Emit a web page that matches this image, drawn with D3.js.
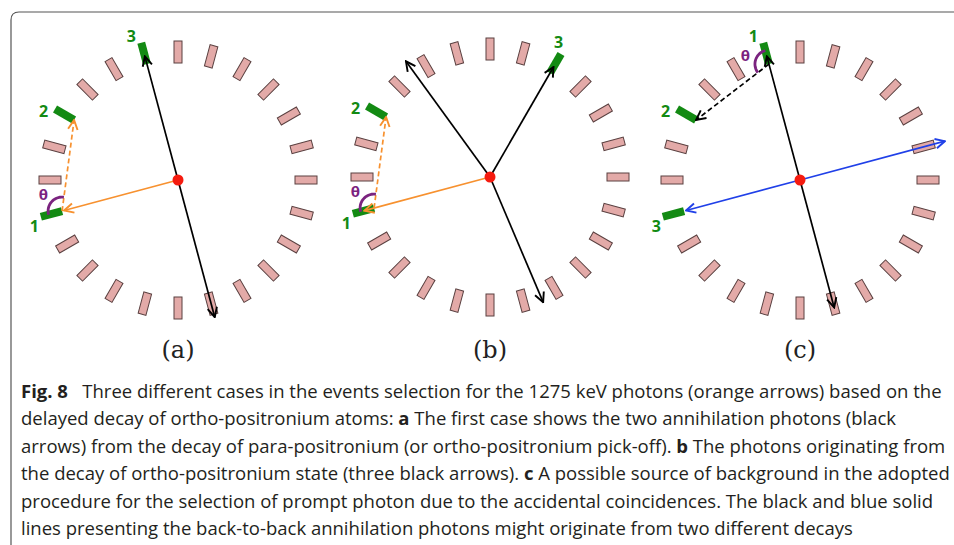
<!DOCTYPE html>
<meta charset="utf-8">
<style>
  body { margin: 0; background: #fff; }
  .cap { font-family: "Open Sans", sans-serif; font-size: 18.5px; fill: #231f20; }
</style>
<body>
<svg id="fig" width="954" height="545"></svg>
<script src="https://d3js.org/d3.v7.min.js"></script>
<script>
// detector ring: 24 slots, angle in degrees clockwise from top
var slots = d3.range(24).map(function (i) { return i * 15; });
var panelLabels = ["(a)", "(b)", "(c)"];
var panelCx = [178, 490, 800];
var panelCy = [180, 177, 180];

// green detectors per panel: [slot angle, label]
var greens = [
  [[255, "1"], [300, "2"], [345, "3"]],
  [[255, "1"], [300, "2"], [30, "3"]],
  [[345, "1"], [300, "2"], [255, "3"]]
];
// solid photon lines from center: [angle, radius end, colour]
var photons = [
  [[345, 128, "#000"], [165, 142, "#000"], [255, 118, "#f7912f"]],
  [[324, 143, "#000"], [30, 127, "#000"], [157, 136, "#000"], [255, 130, "#f7912f"]],
  [[345, 128, "#000"], [165, 132, "#000"], [255, 118, "#2040e8"], [75, 150, "#2040e8"]]
];
// dashed scatter arrow from detector 1 to detector 2
var dashColor = ["#f7912f", "#f7912f", "#000"];

var R = 128;
var svg = d3.select("#fig");

// frame
svg.append("path").attr("d", "M11,545 L11,20 Q11,12 19,12 L954,12")
  .attr("fill", "none").attr("stroke", "#555").attr("stroke-width", 1.2);

var defs = svg.append("defs");
["#000", "#f7912f", "#2040e8"].forEach(function (c, i) {
  defs.append("marker").attr("id", "m" + i).attr("viewBox", "0 0 10 10")
    .attr("refX", 9).attr("refY", 5).attr("markerWidth", 7).attr("markerHeight", 7)
    .attr("orient", "auto-start-reverse")
    .append("path").attr("d", "M1,1 L9,5 L1,9").attr("fill", "none")
    .attr("stroke", c).attr("stroke-width", 1.6);
});
function mk(c) { return c === "#000" ? "url(#m0)" : c === "#f7912f" ? "url(#m1)" : "url(#m2)"; }

var ang = d3.scaleLinear().domain([0, 360]).range([0, 2 * Math.PI]);
function pt(cx, cy, a, r) {
  return [cx + r * Math.sin(ang(a)), cy - r * Math.cos(ang(a))];
}

panelLabels.forEach(function (lab, p) {
  var cx = panelCx[p], cy = panelCy[p];
  var g = svg.append("g");
  var gAng = greens[p].map(function (d) { return d[0]; });

  g.selectAll("rect.det").data(slots.filter(function (a) { return gAng.indexOf(a) < 0; }))
    .enter().append("rect")
    .attr("x", -4).attr("y", -11).attr("width", 8).attr("height", 22)
    .attr("fill", "#e3aaa8").attr("stroke", "#5a4040").attr("stroke-width", 1)
    .attr("transform", function (a) { var q = pt(cx, cy, a, R); return "translate(" + q + ") rotate(" + a + ")"; });

  g.selectAll("rect.gr").data(greens[p]).enter().append("rect")
    .attr("x", -4).attr("y", -11).attr("width", 8).attr("height", 22)
    .attr("fill", "#138a13")
    .attr("transform", function (d) { var q = pt(cx, cy, d[0], R + 3); return "translate(" + q + ") rotate(" + d[0] + ")"; });

  g.selectAll("text.gl").data(greens[p]).enter().append("text")
    .attr("transform", function (d) {
      var q = pt(cx, cy, d[0] - 3, R + 23); return "translate(" + q + ")";
    })
    .attr("text-anchor", "middle").attr("dy", "0.35em")
    .attr("font-family", "Open Sans, sans-serif").attr("font-weight", "bold")
    .attr("font-size", 16).attr("fill", "#138a13").text(function (d) { return d[1]; });

  // photon lines
  photons[p].forEach(function (d) {
    var e = pt(cx, cy, d[0], d[1]);
    g.append("line").attr("x1", cx).attr("y1", cy).attr("x2", e[0]).attr("y2", e[1])
      .attr("stroke", d[2]).attr("stroke-width", 1.7).attr("marker-end", mk(d[2]));
  });

  // dashed scatter 1 -> 2 and theta arc
  var d1 = pt(cx, cy, greens[p][0][0], R - 8);
  var d2 = pt(cx, cy, greens[p][1][0], R - 8);
  g.append("line").attr("x1", d1[0]).attr("y1", d1[1]).attr("x2", d2[0]).attr("y2", d2[1])
    .attr("stroke", dashColor[p]).attr("stroke-width", 1.7).attr("stroke-dasharray", "5,3")
    .attr("marker-end", mk(dashColor[p]));
  // angle between continued incoming direction and scattered direction
  var a1 = Math.atan2(d1[1] - cy, d1[0] - cx), a2 = Math.atan2(d2[1] - d1[1], d2[0] - d1[0]);
  var diff = a2 - a1;
  while (diff > Math.PI) diff -= 2 * Math.PI;
  while (diff < -Math.PI) diff += 2 * Math.PI;
  var rr = 14;
  var arc = d3.range(0, 21).map(function (i) {
    var a = a1 + diff * i / 20; return [d1[0] + rr * Math.cos(a), d1[1] + rr * Math.sin(a)];
  });
  var am = a1 + diff / 2;
  g.append("path").attr("d", d3.line()(arc)).attr("fill", "none")
    .attr("stroke", "#7b237f").attr("stroke-width", 2.8);
  g.append("text").attr("x", d1[0] + 25 * Math.cos(am)).attr("y", d1[1] + 25 * Math.sin(am))
    .attr("text-anchor", "middle").attr("dy", "0.35em")
    .attr("font-family", "Open Sans, sans-serif").attr("font-weight", "bold")
    .attr("font-size", 15).attr("fill", "#7b237f").text("θ");

  g.append("circle").attr("cx", cx).attr("cy", cy).attr("r", 5.5).attr("fill", "#f51b0f");

  svg.append("text").attr("x", cx).attr("y", 358).attr("text-anchor", "middle")
    .attr("font-family", "DejaVu Serif, serif").attr("font-size", 24).attr("fill", "#222").text(lab);
});

var capLines = [
  [["Fig. 8", true], ["   Three different cases in the events selection for the 1275 keV photons (orange arrows) based on the", false]],
  [["delayed decay of ortho-positronium atoms: ", false], ["a", true], [" The first case shows the two annihilation photons (black", false]],
  [["arrows) from the decay of para-positronium (or ortho-positronium pick-off). ", false], ["b", true], [" The photons originating from", false]],
  [["the decay of ortho-positronium state (three black arrows). ", false], ["c", true], [" A possible source of background in the adopted", false]],
  [["procedure for the selection of prompt photon due to the accidental coincidences. The black and blue solid", false]],
  [["lines presenting the back-to-back annihilation photons might originate from two different decays", false]]
];
capLines.forEach(function (line, i) {
  var t = svg.append("text").attr("class", "cap").attr("x", 21).attr("y", 398 + i * 27.4)
    .attr("xml:space", "preserve").style("white-space", "pre");
  line.forEach(function (s) {
    t.append("tspan").attr("font-weight", s[1] ? "bold" : "normal").text(s[0]);
  });
});
</script>
</body>
